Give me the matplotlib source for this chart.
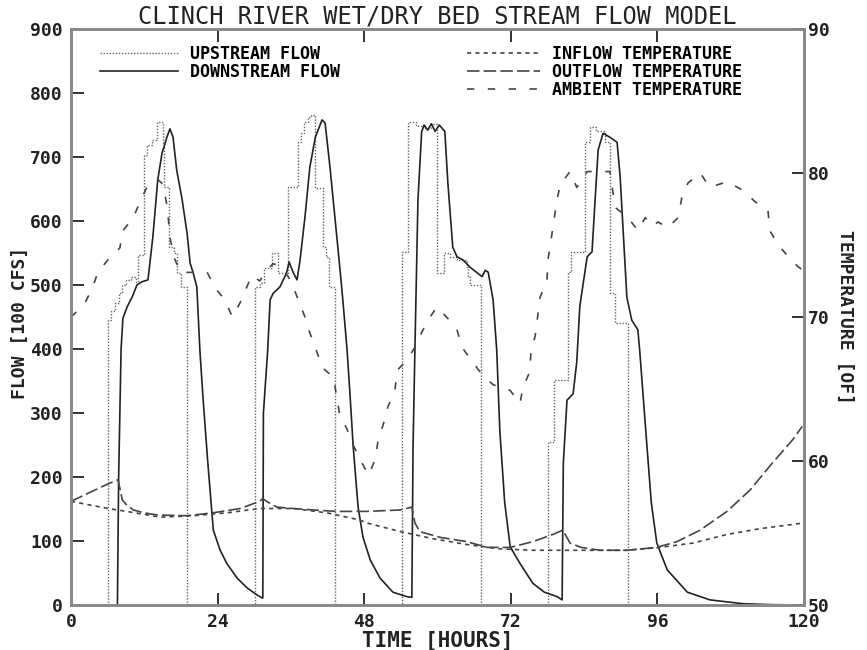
import matplotlib
matplotlib.use('Agg')
import matplotlib.pyplot as plt

plt.rcParams['font.family'] = ['DejaVu Sans Mono']

# --- upstream flow (step, 100 cfs)
up_t = [0, 6.0, 6.6, 7.2, 7.8, 8.3, 9.0, 9.8, 10.6, 11.0, 12.0, 12.5, 13.3, 14.0, 15.0, 15.3,
        16.1, 16.9, 17.3, 18.0, 19.0,
        30.1, 30.9, 31.6, 32.9, 33.9, 35.6, 37.1, 37.7, 38.2, 38.8, 39.3, 40.0, 41.2, 41.8,
        42.3, 43.2,
        54.2, 55.1, 56.4, 57.9, 58.9, 59.9, 61.1, 62.1, 63.2, 64.8, 65.0, 65.3, 67.2,
        78.1, 79.0, 81.3, 81.9, 84.2, 85.0, 86.0, 87.5, 88.2, 89.1, 91.2, 120]
up_q = [0, 445, 460, 472, 487, 500, 508, 512, 505, 547, 703, 719, 727, 755, 722, 653,
        559, 550, 519, 497, 0,
        497, 503, 527, 550, 519, 653, 724, 737, 755, 763, 766, 651, 559, 544,
        497, 0,
        552, 755, 748, 745, 752, 519, 550, 544, 539, 528, 513, 500, 0,
        255, 352, 520, 552, 723, 747, 740, 723, 487, 440, 0, 0]

# --- downstream flow
dn_t = [0, 7.6, 7.8, 8.2, 8.5, 9.2, 10.0, 10.8, 11.6, 12.6, 13.4, 14.2, 14.9, 15.7, 16.2,
        16.7, 17.3, 18.2, 19.0, 19.5, 20.0, 20.6, 21.1, 21.6, 22.4, 23.3, 24.4, 25.5,
        27.2, 28.8, 30.4, 31.3,
        31.4, 31.5, 32.2, 32.6, 33.1, 34.2, 35.3, 35.7, 36.4, 37.0, 37.5, 38.3, 39.1,
        40.0, 41.1, 41.6, 42.4, 43.2, 44.0, 44.5, 45.2, 45.7, 46.2, 47.0, 47.8, 49.0,
        50.6, 52.7, 55.0, 55.8,
        56.0, 56.3, 56.8, 57.4, 57.8, 58.4, 59.0, 59.6, 60.3, 61.2, 61.7, 62.5, 63.2,
        64.2, 65.3, 66.5, 67.3, 67.8, 68.3, 69.1, 69.7, 70.2, 71.0, 71.9, 73.5, 75.6,
        77.5, 79.6, 80.4,
        80.6, 81.2, 82.2, 82.8, 83.3, 84.5, 85.3, 85.8, 86.3, 87.1, 88.2, 89.4, 89.9,
        91.0, 91.8, 92.8, 93.1, 94.3, 95.0, 95.9, 97.6, 100.9, 104.6, 110.0, 115.0, 120.0]
dn_q = [0, 0, 200, 400, 448, 466, 481, 500, 505, 508, 575, 664, 706, 731, 744,
        731, 680, 633, 581, 534, 519, 497, 398, 325, 222, 117, 86, 65,
        42, 27, 16, 11,
        11, 300, 398, 477, 487, 497, 519, 536, 519, 508, 539, 606, 684,
        731, 758, 753, 684, 606, 528, 477, 398, 325, 247, 153, 106, 70,
        42, 20, 13, 12,
        250, 398, 633, 739, 750, 742, 752, 740, 750, 740, 659, 559, 544,
        539, 528, 519, 513, 523, 520, 477, 398, 273, 160, 91, 65, 34,
        20, 13, 8,
        222, 320, 330, 380, 467, 544, 552, 633, 711, 737, 731, 723, 669,
        481, 445, 430, 398, 247, 160, 97, 55, 20, 8, 2, 0.5, 0]

# --- temperatures (deg F)
in_t = [0, 6.1, 9.1, 14.6, 20.0, 25.5, 30.9, 36.4, 41.9, 47.3, 48.4, 53.9, 59.3, 64.8,
        70.2, 75.6, 91.0, 96.4, 101.8, 107.4, 112.8, 118.2, 120]
in_T = [57.2, 56.7, 56.5, 56.1, 56.2, 56.4, 56.7, 56.7, 56.4, 55.9, 55.7, 55.1, 54.6, 54.2,
        53.9, 53.8, 53.8, 54.0, 54.3, 54.9, 55.3, 55.6, 55.7]

out_t = [0, 3.0, 6.0, 7.7, 8.4, 9.0, 10.2, 12.0, 14.1, 19.0, 23.2, 27.7, 30.9, 31.4, 32.0,
         33.7, 36.4, 39.6, 43.5, 48.4, 53.9, 55.8, 56.3, 57.1, 60.4, 64.8, 68.1, 71.9,
         75.6, 78.9, 80.5, 81.7, 83.5, 86.6, 91.0, 95.9, 99.2, 103.0, 107.4, 111.2,
         114.9, 118.2, 119.7]
out_T = [57.2, 57.8, 58.4, 58.7, 57.3, 57.0, 56.6, 56.4, 56.25, 56.2, 56.4, 56.7, 57.2, 57.4,
         57.2, 56.8, 56.7, 56.6, 56.5, 56.5, 56.6, 56.8, 55.7, 55.1, 54.7, 54.4, 54.0, 54.0,
         54.4, 54.9, 55.2, 54.3, 54.0, 53.8, 53.8, 54.0, 54.4, 55.2, 56.5, 58.0,
         59.9, 61.5, 62.4]

amb_t = [0, 1.0, 2.3, 3.4, 4.4, 6.1, 8.0, 8.5, 10.2, 11.3, 12.4, 14.1, 15.1, 15.8, 16.2,
         17.0, 18.0, 22.3, 23.6, 25.2, 26.4, 27.7, 29.6, 30.9, 32.1, 33.1, 34.5, 36.0,
         37.2, 38.3, 39.1, 40.0, 41.1, 43.0, 43.5, 44.0, 45.2, 46.2, 47.6, 48.7, 49.8,
         50.3, 51.1, 51.9, 53.0, 53.4, 55.0, 56.3, 57.5, 58.8, 59.9, 61.7, 63.2, 64.0,
         65.7, 67.3, 69.1, 71.9, 73.5, 74.0, 75.1, 75.3, 76.0, 76.8, 77.9, 78.1, 79.0,
         79.5, 80.1, 81.7, 82.8, 84.5, 88.2, 89.1, 91.2, 92.8, 94.0, 95.1, 96.1, 97.7,
         99.4, 100.0, 101.0, 103.0, 104.6, 107.4, 110.0, 112.0, 114.1, 114.4, 115.8,
         117.4, 119.0, 120]
amb_T = [70.0, 70.4, 71.0, 71.9, 73.1, 74.0, 74.8, 76.0, 76.9, 78.0, 79.0, 79.6, 79.2, 77.5, 75.5,
         74.0, 73.1, 73.1, 72.0, 71.2, 70.0, 71.0, 72.9, 72.5, 73.3, 73.7, 73.5, 72.5,
         71.2, 70.0, 68.9, 67.9, 66.5, 65.8, 64.4, 63.2, 62.2, 61.1, 59.9, 59.0, 60.1,
         61.5, 62.5, 63.8, 64.8, 66.3, 67.0, 67.9, 69.0, 70.0, 70.7, 69.9, 69.1, 67.9,
         66.9, 66.0, 65.3, 64.9, 64.0, 65.1, 66.2, 67.6, 68.7, 71.4, 72.4, 74.0, 76.5,
         78.0, 79.2, 80.1, 79.0, 80.1, 80.1, 77.6, 76.9, 76.0, 76.9, 76.3, 76.6, 76.2,
         76.9, 78.3, 79.3, 80.0, 79.0, 79.4, 78.8, 78.0, 77.4, 76.0, 75.0,
         74.2, 73.5, 73.2]

x_ticks = [0, 24, 48, 72, 96, 120]
flow_ticks = list(range(0, 901, 100))
temp_ticks = [50, 60, 70, 80, 90]

axis_col = '#8a8a8a'
ink = '#222222'

fig = plt.figure(figsize=(8.67, 6.5), dpi=100)
ax = fig.add_axes([71/867, 45/650, 733/867, 576/650])
ax2 = ax.twinx()

l_up, = ax.step(up_t, up_q, where='post', color='#666666', lw=1.0,
                linestyle=(0, (1, 1.2)), label='UPSTREAM FLOW')
l_dn, = ax.plot(dn_t, dn_q, color=ink, lw=1.2, label='DOWNSTREAM FLOW')

l_in, = ax2.plot(in_t, in_T, color='#444444', lw=1.2, linestyle=(0, (2.5, 2.5)),
                 label='INFLOW TEMPERATURE')
l_out, = ax2.plot(out_t, out_T, color='#444444', lw=1.2, linestyle=(0, (7.5, 2.5)),
                  label='OUTFLOW TEMPERATURE')
l_amb, = ax2.plot(amb_t, amb_T, color='#444444', lw=1.2, linestyle=(0, (4.4, 8.1)),
                  label='AMBIENT TEMPERATURE')

ax.set_xlim(0, 120)
ax.set_ylim(0, 900)
ax2.set_ylim(50, 90)

ax.set_xticks(x_ticks)
ax.set_yticks(flow_ticks)
ax2.set_yticks(temp_ticks)

ax.tick_params(axis='x', direction='in', length=9, width=1.3, top=True, pad=6,
               labelsize=13, colors=ink)
ax.tick_params(axis='y', direction='in', length=9, width=1.3, pad=6,
               labelsize=13, colors=ink)
ax2.tick_params(axis='y', direction='in', length=9, width=1.3, pad=3,
                labelsize=13, colors=ink)
for lab in ax.get_xticklabels() + ax.get_yticklabels() + ax2.get_yticklabels():
    lab.set_fontweight('bold')

for a in (ax, ax2):
    for sp in a.spines.values():
        sp.set_color(axis_col)
        sp.set_linewidth(2)

ax.set_title('CLINCH RIVER WET/DRY BED STREAM FLOW MODEL', fontsize=17, pad=2, color=ink)
ax.set_xlabel('TIME [HOURS]', fontsize=15, fontweight='bold', labelpad=0, color=ink)
ax.set_ylabel('FLOW [100 CFS]', fontsize=13, fontweight='bold', color=ink)
ax.yaxis.set_label_coords(-0.058, 0.49)
ax2.set_ylabel('TEMPERATURE [OF]', fontsize=13, fontweight='bold', rotation=270, color=ink)
ax2.yaxis.set_label_coords(1.068, 0.5)

leg_prop = {'family': 'DejaVu Sans Mono', 'weight': 'bold', 'size': 12}
leg1 = ax.legend(handles=[l_up, l_dn], loc='upper left', bbox_to_anchor=(0.0396, 0.972),
                 frameon=False, prop=leg_prop, handlelength=4.7, handletextpad=0.7,
                 labelspacing=0.0, borderpad=0, borderaxespad=0)
ax2.legend(handles=[l_in, l_out, l_amb], loc='upper left', bbox_to_anchor=(0.540, 0.972),
           frameon=False, prop=leg_prop, handlelength=4.4, handletextpad=0.7,
           labelspacing=0.0, borderpad=0, borderaxespad=0)

fig.savefig('out.png', dpi=100)
